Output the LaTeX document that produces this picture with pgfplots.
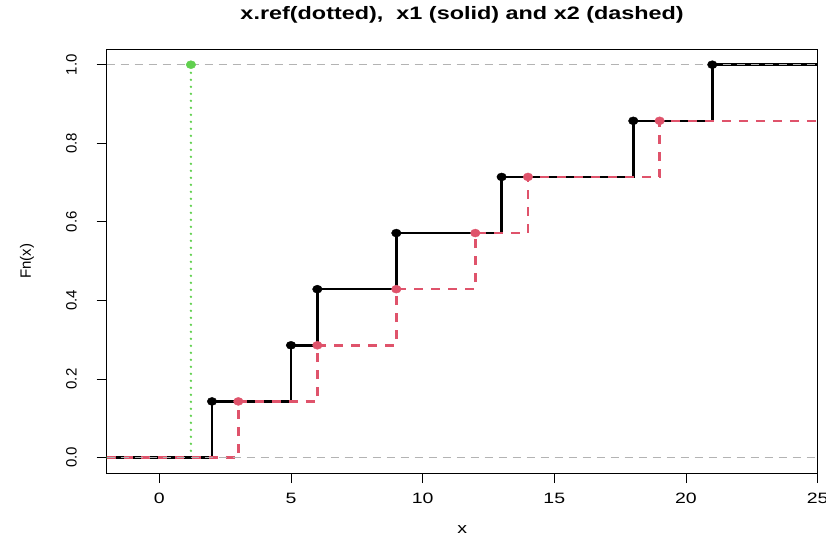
\documentclass[border=0pt]{standalone}
\usepackage{pgfplots}
\pgfplotsset{compat=1.18}
\usepackage{fontspec}
\setmainfont[FakeStretch=1.3]{Liberation Sans}
\newfontfamily\plainsans{Liberation Sans}
\definecolor{rgreen}{HTML}{61D04F}
\definecolor{rpink}{HTML}{DF536B}
\definecolor{rgrey}{HTML}{B3B3B3}
\begin{document}
\begin{tikzpicture}
\useasboundingbox (-106.7pt,-63.7pt) rectangle (719.4pt,473.3pt);
\begin{axis}[
    at={(0,0)}, anchor=south west,
    width=711pt, height=424.3pt, scale only axis,
    xmin=-2, xmax=25, ymin=-0.04, ymax=1.04,
    axis line style={black, line width=0.8pt},
    xtick={0,5,10,15,20,25},
    xticklabels={0,5,10,15,20,25},
    ytick={0,0.2,0.4,0.6,0.8,1},
    yticklabels={0.0,0.2,0.4,0.6,0.8,1.0},
    xtick pos=bottom, ytick pos=left,
    tick align=outside, major tick length=10pt,
    tick style={black, line width=0.8pt},
    xticklabel style={anchor=north, inner sep=0pt, font=\fontsize{15}{15}\selectfont},
    yticklabel style={rotate=90, anchor=south, inner sep=0pt, font=\plainsans\fontsize{15}{15}\selectfont},
    xticklabel shift=9.7pt,
    yticklabel shift=19.7pt,
    title={x.ref(dotted),\ \ x1 (solid) and x2 (dashed)},
    title style={at={(axis description cs:0.5,1.066)}, anchor=center, font=\fontsize{18}{18}\selectfont\bfseries},
    xlabel={x},
    xlabel style={at={(axis description cs:0.5,-0.1336)}, anchor=center, font=\fontsize{15}{15}\selectfont},
    ylabel={Fn(x)},
    ylabel style={at={(axis description cs:-0.1121,0.5)}, anchor=center, font=\plainsans\fontsize{15}{15}\selectfont},
]
% x.ref
\addplot[rgreen, line width=2.6pt, line cap=round, dash pattern=on 0pt off 7pt, const plot]
    coordinates {(-2,0)(1.2,1)};
\addplot[only marks, mark=*, rgreen, mark size=4pt, mark options={xscale=1.2}]
    coordinates {(1.2,1)};
% x1
\addplot[black, line width=2.6pt, const plot]
    coordinates {(-2,0)(2,0.142857)(5,0.285714)(6,0.428571)(9,0.571429)(13,0.714286)(18,0.857143)(21,1)(25,1)};
% x2
\addplot[rpink, line width=2.6pt, dash pattern=on 9pt off 8pt, const plot]
    coordinates {(-2,0)(3,0.142857)(6,0.285714)(9,0.428571)(12,0.571429)(14,0.714286)(19,0.857143)(25,0.857143)};
% 0 and 1 reference lines
\addplot[rgrey, line width=1.2pt, dash pattern=on 8pt off 6pt] coordinates {(-2,0)(25,0)};
\addplot[rgrey, line width=1.2pt, dash pattern=on 8pt off 6pt] coordinates {(-2,1)(25,1)};
% jump points
\addplot[only marks, mark=*, black, mark size=4pt, mark options={xscale=1.2}]
    coordinates {(2,0.142857)(5,0.285714)(6,0.428571)(9,0.571429)(13,0.714286)(18,0.857143)(21,1)};
\addplot[only marks, mark=*, rpink, mark size=4pt, mark options={xscale=1.2}]
    coordinates {(3,0.142857)(6,0.285714)(9,0.428571)(12,0.571429)(14,0.714286)(19,0.857143)};
\end{axis}
\end{tikzpicture}
\end{document}
